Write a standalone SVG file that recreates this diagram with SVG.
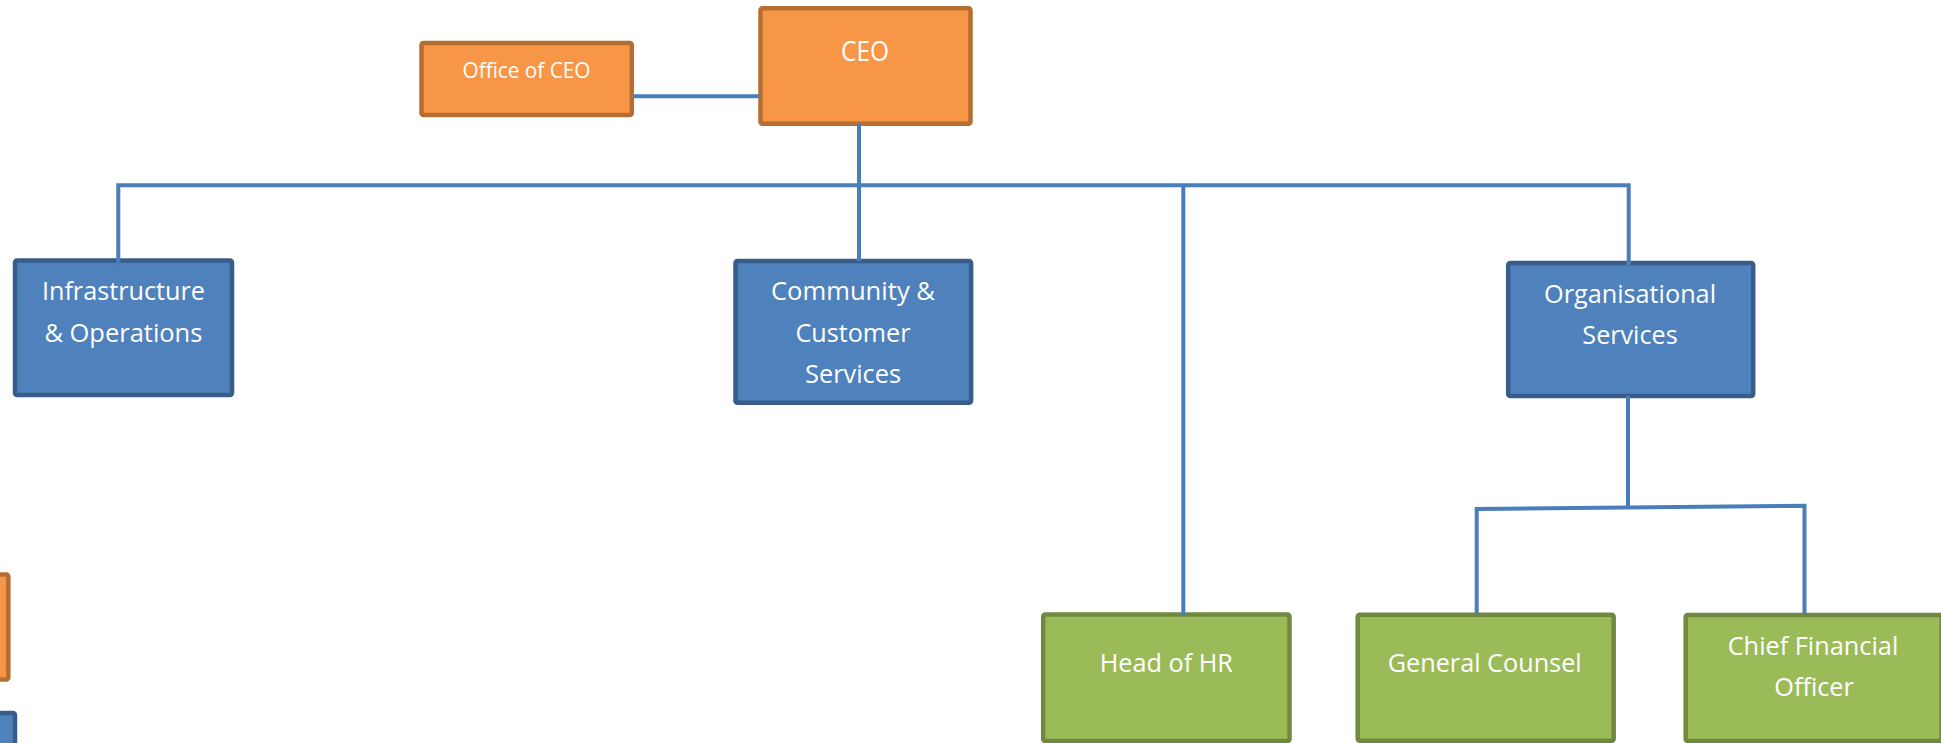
<svg xmlns="http://www.w3.org/2000/svg" width="1941" height="743" viewBox="0 0 1941 743">
<style>
.box{stroke-width:4.5;stroke-linejoin:round}
.blue{fill:#4F81BD;stroke:#385D8A}
.orange{fill:#F79646;stroke:#B66D31}
.green{fill:#9BBB59;stroke:#71893F}
.lbl{font-family:"Open Sans","Liberation Sans",sans-serif;font-size:25.5px;fill:#FFFFFF;text-anchor:middle}
.conn{fill:none;stroke:#4A7EBB;stroke-width:4;stroke-linejoin:miter}
</style>
<rect width="1941" height="743" fill="#FFFFFF"/>
<g id="node-office-ceo">
<rect class="box orange" x="421.5" y="43" width="210.3" height="72" rx="2"/>
<text class="lbl" x="526.5" y="78.3" style="font-size:22.5px" textLength="128" lengthAdjust="spacingAndGlyphs">Office of CEO</text>
</g>
<g id="node-ceo">
<rect class="box orange" x="760.5" y="8.2" width="210" height="115.6" rx="2"/>
<text class="lbl" x="865" y="60.7" style="font-size:26.5px" textLength="48" lengthAdjust="spacingAndGlyphs">CEO</text>
</g>
<g id="node-infrastructure">
<rect class="box blue" x="15" y="260.5" width="217" height="134.6" rx="2"/>
<text class="lbl" x="123.4" y="300" textLength="163" lengthAdjust="spacingAndGlyphs">Infrastructure</text>
<text class="lbl" x="123.4" y="341.7" textLength="158" lengthAdjust="spacingAndGlyphs">&amp; Operations</text>
</g>
<g id="node-community">
<rect class="box blue" x="735.5" y="261" width="235.6" height="141.8" rx="2"/>
<text class="lbl" x="853" y="300" textLength="164" lengthAdjust="spacingAndGlyphs">Community &amp;</text>
<text class="lbl" x="853" y="341.7" textLength="115" lengthAdjust="spacingAndGlyphs">Customer</text>
<text class="lbl" x="853" y="383.3" textLength="96" lengthAdjust="spacingAndGlyphs">Services</text>
</g>
<g id="node-organisational">
<rect class="box blue" x="1508.2" y="263" width="245" height="133" rx="2"/>
<text class="lbl" x="1630" y="303.3" textLength="172" lengthAdjust="spacingAndGlyphs">Organisational</text>
<text class="lbl" x="1630" y="344" textLength="95.3" lengthAdjust="spacingAndGlyphs">Services</text>
</g>
<g id="node-head-hr">
<rect class="box green" x="1043.2" y="614.5" width="246.3" height="126.5" rx="2"/>
<text class="lbl" x="1166.3" y="672.3" textLength="133" lengthAdjust="spacingAndGlyphs">Head of HR</text>
</g>
<g id="node-general-counsel">
<rect class="box green" x="1357.7" y="614.7" width="256" height="126" rx="2"/>
<text class="lbl" x="1484.7" y="672" textLength="194" lengthAdjust="spacingAndGlyphs">General Counsel</text>
</g>
<g id="node-cfo">
<rect class="box green" x="1685.7" y="614.9" width="256" height="126" rx="2"/>
<text class="lbl" x="1813" y="655" textLength="170.6" lengthAdjust="spacingAndGlyphs">Chief Financial</text>
<text class="lbl" x="1814" y="696" textLength="79.4" lengthAdjust="spacingAndGlyphs">Officer</text>
</g>
<g id="node-partial-orange">
<rect class="box orange" x="-200" y="574.5" width="208.3" height="105" rx="2"/>
</g>
<g id="node-partial-blue">
<rect class="box blue" x="-200" y="713" width="215" height="100" rx="2"/>
</g>
<g id="connectors">
<path class="conn" d="M634 96.3 H759"/>
<path class="conn" d="M859 124 V261"/>
<path class="conn" d="M118.3 268 V185.3 H1628.7 V267.3"/>
<path class="conn" d="M1183.3 185.3 V615"/>
<path class="conn" d="M1628 396 V507.5"/>
<path class="conn" d="M1476.7 614 V509 L1804.5 505.7 V614"/>
</g>
</svg>
